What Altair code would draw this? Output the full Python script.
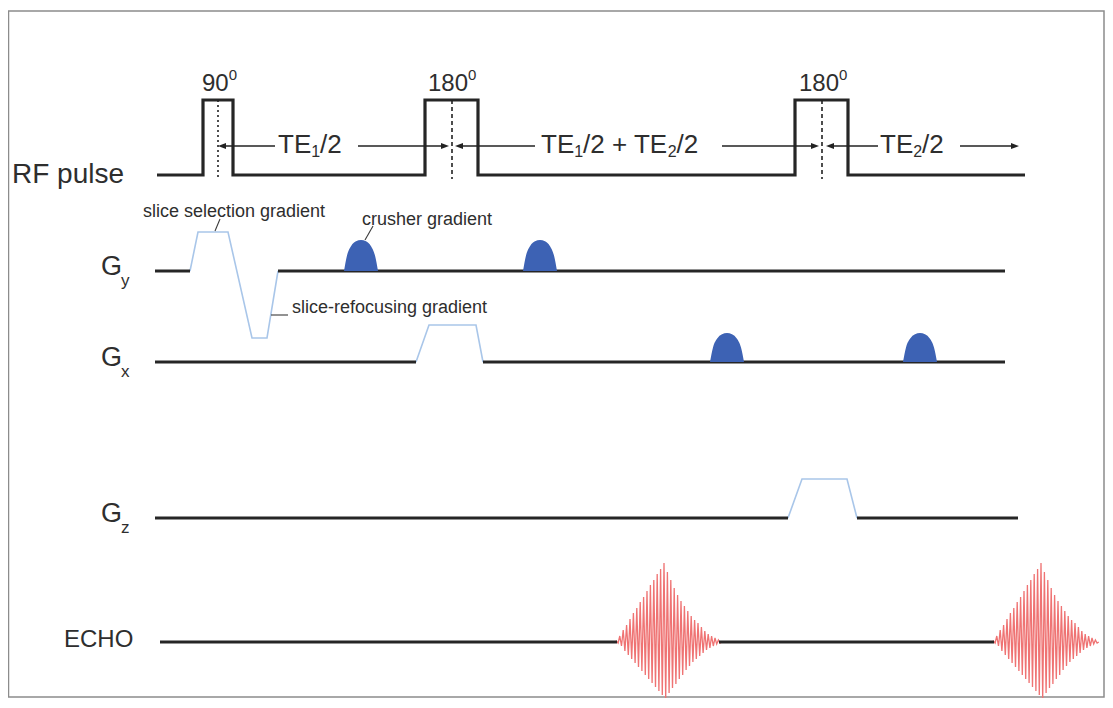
import altair as alt
import pandas as pd

# ---------------- data (diagram units: time along x, amplitude above each row baseline) -------------
ROW_BASE = {"RF": 175, "Gy": 271, "Gx": 362, "Gz": 518, "ECHO": 642}

RF_TIME = [157, 203, 203, 233, 233, 425, 425, 478, 478, 795, 795, 848, 848, 1025]
RF_AMP = [0, 0, 75, 75, 0, 0, 75, 75, 0, 0, 75, 75, 0, 0]

PULSE_CENTERS = [218, 452, 822]
PULSE_KIND = ["dotted", "dashed", "dashed"]
PULSE_LINE_AMP = [75, -4]

GY_BLACK = [[155, 190], [278, 1005]]
GY_TRAP_TIME = [190, 198, 228, 252, 267, 278]
GY_TRAP_AMP = [0, 39, 39, -67, -67, 0]

GX_BLACK = [[155, 416], [483, 1005]]
GX_TRAP_TIME = [416, 429, 476, 483]
GX_TRAP_AMP = [0, 37, 37, 0]

GZ_BLACK = [[155, 788], [857, 1018]]
GZ_TRAP_TIME = [788, 802, 847, 857]
GZ_TRAP_AMP = [0, 39, 39, 0]

ECHO_BLACK = [[160, 617], [719, 994]]
ECHO_CENTER = [664, 1041]
ECHO_STEP = 1.7
ECHO_PEAKS = [0, 1, -1, 6, -4, 12, -9, 17, -13, 23, -17, 29, -21, 34, -25, 40, -29, 45, -33, 51,
              -37, 57, -41, 62, -45, 68, -49, 73, -53,
              79,
              -56, 70, -51, 62, -46, 54, -42, 47, -37, 41, -33, 36, -28, 31, -24, 26, -20, 22,
              -17, 19, -14, 15, -11, 11, -8, 8, -6, 6, -4, 4, -2, 2, -1, 0]
ECHO_PEAK_INDEX = 29

CRUSHER_ROW = ["Gy", "Gy", "Gx", "Gx"]
CRUSHER_CENTER = [361, 540, 727, 920]
CRUSHER_HEIGHT = [31, 31, 29, 29]
CRUSHER_OFFSET = [-17, -14, -10, -5, 0, 5, 10, 14, 17]
CRUSHER_PROFILE = [0, 0.5, 0.8, 0.96, 1, 0.96, 0.8, 0.5, 0]

ARROW_AMP = 29
ARROW_SEGMENTS = [[222, 275], [358, 445], [459, 535], [722, 815], [830, 878], [960, 1013]]
ARROW_TIPS = [218, 449, 455, 819, 826, 1019]
ARROW_DIRS = ["left", "right", "left", "right", "left", "right"]

LEADERS = [[[215, 231], [220, 219]], [[365, 240], [373, 226]], [[271, 315], [288, 315]]]

PULSE_LABEL_TEXT = ["90", "180", "180"]
PULSE_LABEL_X = [202, 428, 799]
PULSE_LABEL_Y = 84

TE_LABEL_PARTS = [
    [("TE", "n"), ("1", "sub"), ("/2", "n")],
    [("TE", "n"), ("1", "sub"), ("/2 + TE", "n"), ("2", "sub"), ("/2", "n")],
    [("TE", "n"), ("2", "sub"), ("/2", "n")],
]
TE_LABEL_X = [278, 541, 880]
TE_LABEL_Y = 145

CHANNEL_G_SUB = ["y", "x", "z"]
CHANNEL_G_ROW = ["Gy", "Gx", "Gz"]
CHANNEL_G_X = 101

PLAIN_LABELS = [
    ("RF pulse", 12, 175, 28),
    ("ECHO", 64, 640, 24),
    ("slice selection gradient", 143, 212, 18),
    ("crusher gradient", 362, 220, 18),
    ("slice-refocusing gradient", 292, 308, 18),
]

FRAME_X = [8.5, 1104]
FRAME_Y = [11, 697]

# ---------------- build tables -------------
def y_of(row, amp):
    return ROW_BASE[row] - amp

lines = []

def add_path(seg, style, xs, ys):
    for i, (x, y) in enumerate(zip(xs, ys)):
        lines.append(dict(seg=seg, i=i, x=x, y=y, style=style))

add_path("rf", "black", RF_TIME, [y_of("RF", a) for a in RF_AMP])
for row, blacks, tt, ta in [("Gy", GY_BLACK, GY_TRAP_TIME, GY_TRAP_AMP),
                            ("Gx", GX_BLACK, GX_TRAP_TIME, GX_TRAP_AMP),
                            ("Gz", GZ_BLACK, GZ_TRAP_TIME, GZ_TRAP_AMP)]:
    for k, (a, b) in enumerate(blacks):
        add_path(f"{row}b{k}", "black", [a, b], [y_of(row, 0)] * 2)
    add_path(f"{row}t", "trap", tt, [y_of(row, a) for a in ta])
for k, (a, b) in enumerate(ECHO_BLACK):
    add_path(f"eb{k}", "black", [a, b], [y_of("ECHO", 0)] * 2)
for k, c in enumerate(ECHO_CENTER):
    start = c - ECHO_PEAK_INDEX * ECHO_STEP
    xs = [start + j * ECHO_STEP for j in range(len(ECHO_PEAKS))]
    add_path(f"echo{k}", "echo", xs, [y_of("ECHO", a) for a in ECHO_PEAKS])
for k, (c, kind) in enumerate(zip(PULSE_CENTERS, PULSE_KIND)):
    add_path(f"pc{k}", kind, [c, c], [y_of("RF", a) for a in PULSE_LINE_AMP])
for k, (a, b) in enumerate(ARROW_SEGMENTS):
    add_path(f"ar{k}", "arrow", [a, b], [y_of("RF", ARROW_AMP)] * 2)
for k, pts in enumerate(LEADERS):
    add_path(f"ld{k}", "leader", [p[0] for p in pts], [p[1] for p in pts])

lines_df = pd.DataFrame(lines)

heads = pd.DataFrame({
    "x": ARROW_TIPS,
    "y": [y_of("RF", ARROW_AMP)] * len(ARROW_TIPS),
    "shape": ["M0,0L2,-0.75L2,0.75Z" if d == "left" else "M0,0L-2,-0.75L-2,0.75Z" for d in ARROW_DIRS],
})

bumps = []
for k, (row, c, h) in enumerate(zip(CRUSHER_ROW, CRUSHER_CENTER, CRUSHER_HEIGHT)):
    for i, (o, p) in enumerate(zip(CRUSHER_OFFSET, CRUSHER_PROFILE)):
        bumps.append(dict(seg=f"b{k}", x=c + o, y=y_of(row, h * p), y2=y_of(row, 0)))
bumps_df = pd.DataFrame(bumps)

CHAR_EM = {"T": .611, "E": .667, "/": .278, " ": .278, "+": .584, "G": .778,
           "x": .5, "y": .5, "z": .5}

def compose(parts, x0, yc, size, small):
    rows = []
    x = x0
    for txt, role in parts:
        s = size if role == "n" else small
        dy = 0 if role == "n" else (7 if role == "sub" else -9)
        rows.append(dict(text=txt, x=x, y=yc + dy, size=s))
        x += sum(CHAR_EM.get(ch, .556) for ch in txt) * s
    return rows

texts = []
for t, x in zip(PULSE_LABEL_TEXT, PULSE_LABEL_X):
    texts += compose([(t, "n"), ("0", "sup")], x, PULSE_LABEL_Y, 24, 15)
for parts, x in zip(TE_LABEL_PARTS, TE_LABEL_X):
    texts += compose(parts, x, TE_LABEL_Y, 26, 16)
for sub, row in zip(CHANNEL_G_SUB, CHANNEL_G_ROW):
    base = ROW_BASE[row]
    texts.append(dict(text="G", x=CHANNEL_G_X, y=base - 4, size=27))
    texts.append(dict(text=sub, x=CHANNEL_G_X + 20, y=base + 10, size=17))
for t, x, y, s in PLAIN_LABELS:
    texts.append(dict(text=t, x=x, y=y, size=s))
texts_df = pd.DataFrame(texts)

frame_df = pd.DataFrame({"x": [FRAME_X[0]], "x2": [FRAME_X[1]], "y": [FRAME_Y[0]], "y2": [FRAME_Y[1]]})

# ---------------- chart -------------
XS = alt.Scale(domain=[8, 1105], nice=False, zero=False)
YS = alt.Scale(domain=[8, 698], nice=False, zero=False, reverse=True)
X = alt.X("x:Q", scale=XS, axis=None)
Y = alt.Y("y:Q", scale=YS, axis=None)

def line_layer(style, **mark):
    return alt.Chart(lines_df[lines_df["style"] == style]).mark_line(**mark).encode(
        x=X, y=Y, detail="seg:N", order="i:Q")

frame = alt.Chart(frame_df).mark_rect(fillOpacity=0, stroke="#8c8c8c", strokeWidth=1.5).encode(
    x=X, x2="x2:Q", y=Y, y2="y2:Q")

trap = line_layer("trap", color="#a9c6e9", strokeWidth=1.6)
echo = line_layer("echo", color="#ef7373", strokeWidth=1.3)
black = line_layer("black", color="#262626", strokeWidth=3.2, strokeCap="butt")
dotted = line_layer("dotted", color="#222222", strokeWidth=1.6, strokeDash=[2, 3])
dashed = line_layer("dashed", color="#222222", strokeWidth=1.6, strokeDash=[4, 3])
arrow = line_layer("arrow", color="#222222", strokeWidth=1.3)
leader = line_layer("leader", color="#3a3a3a", strokeWidth=1.1)

arrowheads = alt.Chart(heads).mark_point(filled=True, color="#222222", opacity=1, size=64, strokeWidth=0).encode(
    x=X, y=Y, shape=alt.Shape("shape:N", scale=None))

crushers = alt.Chart(bumps_df).mark_area(color="#3d62b4", interpolate="monotone", opacity=1).encode(
    x=X, y=alt.Y("y:Q", scale=YS, axis=None, stack=None), y2="y2:Q", detail="seg:N")

labels = alt.Chart(texts_df).mark_text(align="left", baseline="middle", font="Liberation Sans",
                                      color="#2e2e2e").encode(
    x=X, y=Y, text="text:N", size=alt.Size("size:Q", scale=None))

chart = alt.layer(frame, trap, echo, black, crushers, dotted, dashed, arrow, arrowheads, leader, labels).properties(
    width=1097, height=690, padding=0, autosize="none", background="white"
).configure_view(strokeOpacity=0)

chart.save("out.html", embed_options={"renderer": "svg", "actions": False})
